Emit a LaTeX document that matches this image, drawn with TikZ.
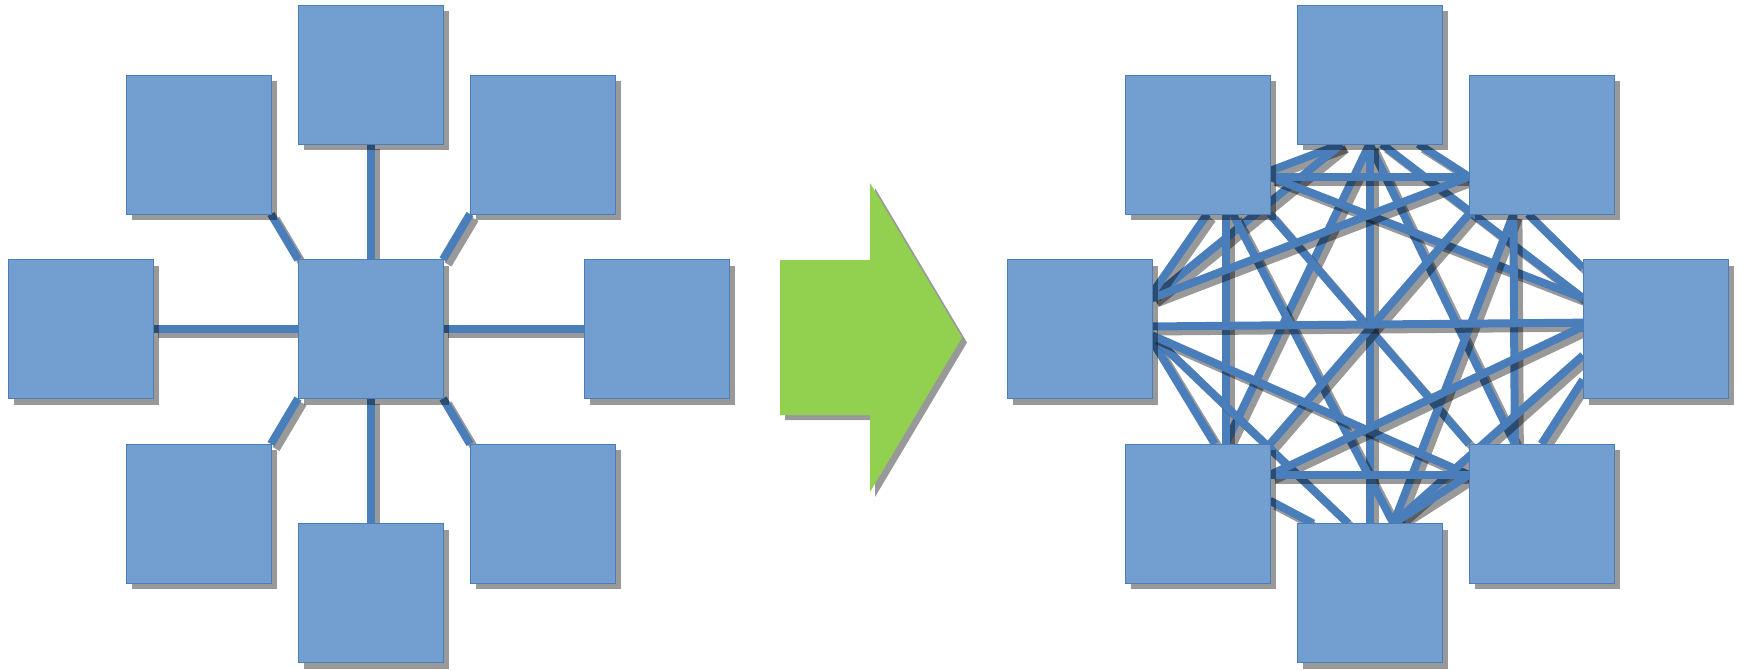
\documentclass[tikz,border=0pt]{standalone}
\usetikzlibrary{shadows,backgrounds}
\definecolor{boxfill}{HTML}{729FCF}
\definecolor{boxline}{HTML}{4A7EBB}
\definecolor{linkblue}{HTML}{4A7EBB}
\definecolor{arrowgreen}{HTML}{92D050}

\begin{document}
\begin{tikzpicture}[x=1pt,y=-1pt,
  box/.style={rectangle,draw=boxline,fill=boxfill,line width=0.8pt,minimum width=145pt,minimum height=139pt,inner sep=0pt,outer sep=0pt,
    drop shadow={shadow xshift=6pt,shadow yshift=-6pt,fill=black,opacity=0.4}},
  link/.style={draw=linkblue,line width=8pt,preaction={draw=black,draw opacity=0.4,line width=8pt,transform canvas={xshift=5pt,yshift=-5pt}}}]
  \useasboundingbox (0,0) rectangle (1740,671);

  % star
  \node[box] (sc) at (370.5,329) {};
  \node[box] (st) at (370.5,74.5) {};
  \node[box] (stl) at (198.5,144.5) {};
  \node[box] (str) at (542.5,144.5) {};
  \node[box] (sl) at (80.5,329) {};
  \node[box] (sr) at (656.5,329) {};
  \node[box] (sbl) at (198.5,513.5) {};
  \node[box] (sbr) at (542.5,513.5) {};
  \node[box] (sb) at (370.5,593) {};

  % mesh
  \node[box] (mt) at (1369.5,74.5) {};
  \node[box] (mtl) at (1197.5,144.5) {};
  \node[box] (mtr) at (1541.5,144.5) {};
  \node[box] (ml) at (1079.5,329) {};
  \node[box] (mr) at (1655.5,329) {};
  \node[box] (mbl) at (1197.5,513.5) {};
  \node[box] (mbr) at (1541.5,513.5) {};
  \node[box] (mb) at (1369.5,593) {};

  % arrow
  \fill[black,opacity=0.4,shift={(5,5)}] (780,260) -- (870,260) -- (870,183) -- (962,337.5) -- (870,492) -- (870,415) -- (780,415) -- cycle;
  \fill[arrowgreen] (780,260) -- (870,260) -- (870,183) -- (962,337.5) -- (870,492) -- (870,415) -- (780,415) -- cycle;

\begin{scope}[on background layer]
\path[every edge/.style={link}]
  (sc.north) edge (st.south)
  (sc.west) edge (sl.east)
  (sc.east) edge (sr.west)
  (sc.south) edge (sb.north)
  (sc.north west) edge (stl.south east)
  (sc.north east) edge (str.south west)
  (sc.south west) edge (sbl.north east)
  (sc.south east) edge (sbr.north west)
;
\path[every edge/.style={link}]
  (mt.-112) edge (mtl.-20)
  (mt.-55) edge (mtr.-156)
  (mt.-112) edge (ml.23)
  (mt.-80) edge (mr.157)
  (mt.south) edge (mbl.68)
  (mt.south) edge (mbr.111)
  (mt.south) edge (mb.north)
  (mtl.-24) edge (mtr.-156)
  (mtl.-82) edge (ml.26)
  (mtl.-24) edge (mr.157)
  (mtl.-68) edge (mbl.68)
  (mtl.-63) edge (mb.71)
  (mtl.south east) edge (mbr.north west)
  (mtr.-156) edge (ml.23)
  (mtr.-101) edge (mr.140)
  (mtr.south west) edge (mbl.north east)
  (mtr.-112) edge (mb.71)
  (mtr.-112) edge (mbr.111)
  (ml.2) edge (mr.175)
  (ml.-9) edge (mbl.76)
  (ml.-5) edge (mb.107)
  (ml.-5) edge (mbr.152)
  (mr.178) edge (mbl.28)
  (mr.-160) edge (mb.71)
  (mr.-145) edge (mbr.north)
  (mbl.10) edge (mb.129)
  (mbl.28) edge (mbr.152)
  (mb.71) edge (mbr.152)
;
\end{scope}
\end{tikzpicture}
\end{document}
